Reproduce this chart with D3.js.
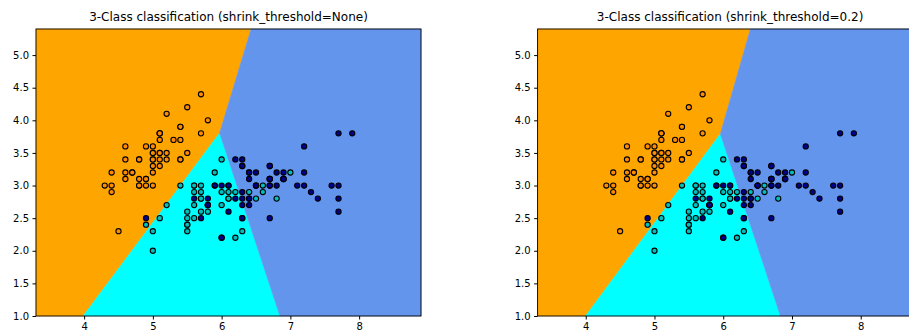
<!DOCTYPE html>
<html>
<head>
<meta charset="utf-8">
<script src="https://cdn.jsdelivr.net/npm/d3@7"></script>
<style>
  body { margin: 0; background: #fff; }
  text { font-family: "DejaVu Sans", sans-serif; fill: #000; }
</style>
</head>
<body>
<div id="chart"></div>
<script>
// iris: sepal length / sepal width, class 0 = setosa, 1 = versicolor, 2 = virginica
const sepalLength = [
  5.1,4.9,4.7,4.6,5.0,5.4,4.6,5.0,4.4,4.9,5.4,4.8,4.8,4.3,5.8,5.7,5.4,5.1,5.7,5.1,5.4,5.1,4.6,5.1,4.8,
  5.0,5.0,5.2,5.2,4.7,4.8,5.4,5.2,5.5,4.9,5.0,5.5,4.9,4.4,5.1,5.0,4.5,4.4,5.0,5.1,4.8,5.1,4.6,5.3,5.0,
  7.0,6.4,6.9,5.5,6.5,5.7,6.3,4.9,6.6,5.2,5.0,5.9,6.0,6.1,5.6,6.7,5.6,5.8,6.2,5.6,5.9,6.1,6.3,6.1,6.4,
  6.6,6.8,6.7,6.0,5.7,5.5,5.5,5.8,6.0,5.4,6.0,6.7,6.3,5.6,5.5,5.5,6.1,5.8,5.0,5.6,5.7,5.7,6.2,5.1,5.7,
  6.3,5.8,7.1,6.3,6.5,7.6,4.9,7.3,6.7,7.2,6.5,6.4,6.8,5.7,5.8,6.4,6.5,7.7,7.7,6.0,6.9,5.6,7.7,6.3,6.7,
  7.2,6.2,6.1,6.4,7.2,7.4,7.9,6.4,6.3,6.1,7.7,6.3,6.4,6.0,6.9,6.7,6.9,5.8,6.8,6.7,6.7,6.3,6.5,6.2,5.9
];
const sepalWidth = [
  3.5,3.0,3.2,3.1,3.6,3.9,3.4,3.4,2.9,3.1,3.7,3.4,3.0,3.0,4.0,4.4,3.9,3.5,3.8,3.8,3.4,3.7,3.6,3.3,3.4,
  3.0,3.4,3.5,3.4,3.2,3.1,3.4,4.1,4.2,3.1,3.2,3.5,3.6,3.0,3.4,3.5,2.3,3.2,3.5,3.8,3.0,3.8,3.2,3.7,3.3,
  3.2,3.2,3.1,2.3,2.8,2.8,3.3,2.4,2.9,2.7,2.0,3.0,2.2,2.9,2.9,3.1,3.0,2.7,2.2,2.5,3.2,2.8,2.5,2.8,2.9,
  3.0,2.8,3.0,2.9,2.6,2.4,2.4,2.7,2.7,3.0,3.4,3.1,2.3,3.0,2.5,2.6,3.0,2.6,2.3,2.7,3.0,2.9,2.9,2.5,2.8,
  3.3,2.7,3.0,2.9,3.0,3.0,2.5,2.9,2.5,3.6,3.2,2.7,3.0,2.5,2.8,3.2,3.0,3.8,2.6,2.2,3.2,2.8,2.8,2.7,3.3,
  3.2,2.8,3.0,2.8,3.0,2.8,3.8,2.8,2.8,2.6,3.0,3.4,3.1,3.0,3.1,3.1,3.1,2.7,3.2,3.3,3.0,2.5,3.0,3.4,3.0
];
const species = d3.range(150).map(i => Math.floor(i / 50));

const panels = [
  { title: '3-Class classification (shrink_threshold=None)', shrink: null, left: 36 },
  { title: '3-Class classification (shrink_threshold=0.2)', shrink: 0.2, left: 537.6 }
];
const xTicks = [4, 5, 6, 7, 8];
const yTicks = [1.0, 1.5, 2.0, 2.5, 3.0, 3.5, 4.0, 4.5, 5.0];

const lightColors = ['orange', 'cyan', 'cornflowerblue'];
const boldColors = ['darkorange', '#00bfbf', 'darkblue'];

const width = 909, height = 331;
const plotW = 385, plotTop = 29, plotBottom = 316;

// plot range as in the sklearn example: min - 1, max + 1
const xDomain = [d3.min(sepalLength) - 1, d3.max(sepalLength) + 1];
const yDomain = [d3.min(sepalWidth) - 1, d3.max(sepalWidth) + 1];

// nearest centroid, optionally shrunken (same steps as sklearn)
function centroids(shrink) {
  const n = sepalLength.length, k = 3;
  const X = d3.range(n).map(i => [sepalLength[i], sepalWidth[i]]);
  const cents = d3.range(k).map(c => {
    const rows = X.filter((_, i) => species[i] === c);
    return [d3.mean(rows, r => r[0]), d3.mean(rows, r => r[1])];
  });
  if (shrink == null) return cents;
  const overall = [d3.mean(X, r => r[0]), d3.mean(X, r => r[1])];
  const variance = [0, 1].map(j => d3.sum(X, (r, i) => (r[j] - cents[species[i]][j]) ** 2));
  let s = variance.map(v => Math.sqrt(v / (n - k)));
  const med = d3.median(s);
  s = s.map(v => v + med);
  return cents.map((c, ci) => {
    const nk = species.filter(v => v === ci).length;
    const m = Math.sqrt(1 / nk - 1 / n);
    return [0, 1].map(j => {
      const ms = m * s[j];
      let dev = (c[j] - overall[j]) / ms;
      const sign = Math.sign(dev);
      dev = Math.max(Math.abs(dev) - shrink, 0) * sign;
      return overall[j] + ms * dev;
    });
  });
}

const svg = d3.select('#chart')
  .append('svg')
  .attr('width', width)
  .attr('height', height);

svg.append('rect').attr('width', width).attr('height', height).attr('fill', '#fff');

panels.forEach(p => {
  const x = d3.scaleLinear().domain(xDomain).range([p.left, p.left + plotW]);
  const y = d3.scaleLinear().domain(yDomain).range([plotBottom, plotTop]);
  const g = svg.append('g');

  // decision regions: voronoi cells of the centroids in data space
  const cents = centroids(p.shrink);
  const voronoi = d3.Delaunay.from(cents).voronoi([xDomain[0], yDomain[0], xDomain[1], yDomain[1]]);
  cents.forEach((c, i) => {
    const poly = voronoi.cellPolygon(i);
    g.append('path')
      .attr('d', 'M' + poly.map(v => x(v[0]) + ',' + y(v[1])).join('L') + 'Z')
      .attr('fill', lightColors[i])
      .attr('stroke', lightColors[i])
      .attr('stroke-width', 0.5);
  });

  // training points
  g.append('g')
    .selectAll('circle')
    .data(d3.range(sepalLength.length))
    .join('circle')
    .attr('cx', i => x(sepalLength[i]))
    .attr('cy', i => y(sepalWidth[i]))
    .attr('r', 2.6)
    .attr('fill', i => boldColors[species[i]])
    .attr('stroke', '#000')
    .attr('stroke-width', 1.1);

  // frame
  g.append('rect')
    .attr('x', p.left).attr('y', plotTop)
    .attr('width', plotW).attr('height', plotBottom - plotTop)
    .attr('fill', 'none')
    .attr('stroke', '#000')
    .attr('stroke-width', 0.9);

  const xAxis = d3.axisBottom(x).tickValues(xTicks).tickFormat(d3.format('d'))
    .tickSize(3.5).tickPadding(3.5);
  g.append('g')
    .attr('transform', `translate(0,${plotBottom})`)
    .call(xAxis)
    .call(a => a.select('.domain').remove())
    .selectAll('text').attr('font-size', 10).attr('font-family', 'DejaVu Sans');

  const yAxis = d3.axisLeft(y).tickValues(yTicks).tickFormat(d3.format('.1f'))
    .tickSize(3.5).tickPadding(3.5);
  g.append('g')
    .attr('transform', `translate(${p.left},0)`)
    .call(yAxis)
    .call(a => a.select('.domain').remove())
    .selectAll('text').attr('font-size', 10).attr('font-family', 'DejaVu Sans');

  g.append('text')
    .attr('x', p.left + plotW / 2)
    .attr('y', 21)
    .attr('text-anchor', 'middle')
    .attr('font-size', 12)
    .text(p.title);
});
</script>
</body>
</html>
